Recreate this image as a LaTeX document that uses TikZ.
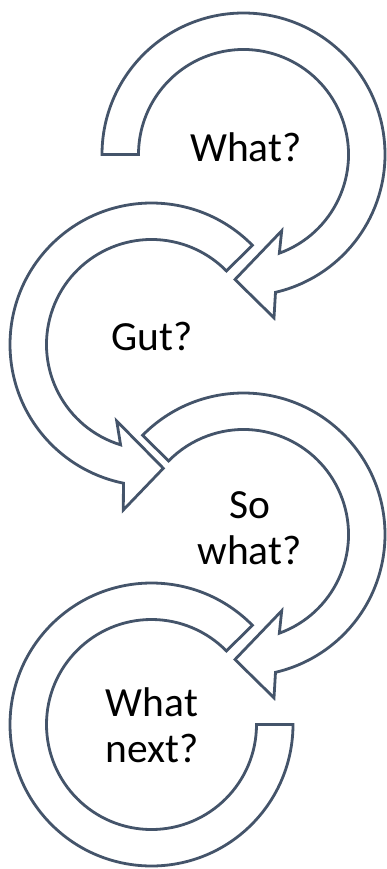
\documentclass[tikz,border=0pt]{standalone}
\usepackage{fontspec}
\setmainfont{Carlito}
\definecolor{bandline}{HTML}{44546A}
\tikzset{
  band/.style={draw=bandline, fill=white, line width=2.8pt, line join=miter},
  lbl/.style={inner sep=0pt, text=black, font=\fontsize{41.5}{46}\selectfont}
}
\begin{document}
\begin{tikzpicture}[x=1pt,y=1pt]
\useasboundingbox (0,0) rectangle (386,-869);
% shape 1: What?
\begin{scope}[shift={(243.5,-154.5)}]
\draw[band] (180:141.5) arc[start angle=180, end angle=-76.93, radius=141.5pt]
  -- (30.5,-163.3) -- (-8.5,-125) -- (38.2,-76.3) -- (-70.04:105)
  arc[start angle=-70.04, end angle=180, radius=105pt] -- cycle;
\end{scope}
% shape 2: Gut?
\begin{scope}[shift={(151.5,-344.5)}]
\draw[band] (44.5:141.5) arc[start angle=44.5, end angle=258.57, radius=141.5pt]
  -- (-28.2,-165.5) -- (11.8,-123.8) -- (-34.8,-76.5) -- (252.87:105)
  arc[start angle=252.87, end angle=44.5, radius=105pt] -- cycle;
\end{scope}
% shape 3: So what?
\begin{scope}[shift={(243.5,-534.5)}]
\draw[band] (135.5:141.5) arc[start angle=135.5, end angle=-76.93, radius=141.5pt]
  -- (30.5,-163.3) -- (-8.5,-125) -- (38.2,-76.3) -- (-70.04:105)
  arc[start angle=-70.04, end angle=135.5, radius=105pt] -- cycle;
\end{scope}
% shape 4: What next?
\begin{scope}[shift={(151.5,-724.5)}]
\draw[band] (44.5:141.5) arc[start angle=44.5, end angle=360, radius=141.5pt]
  -- (0:105) arc[start angle=360, end angle=44.5, radius=105pt] -- cycle;
\end{scope}
\node[lbl, anchor=base] (t1) at (245.8,-161.7) {What?};
\node[lbl, anchor=base] (t2) at (152.2,-350) {Gut?};
\node[lbl, align=center] (t3) at (249.5,-528.2) {So\\what?};
\node[lbl, align=center] (t4) at (152,-725) {What\\next?};
\end{tikzpicture}
\end{document}
